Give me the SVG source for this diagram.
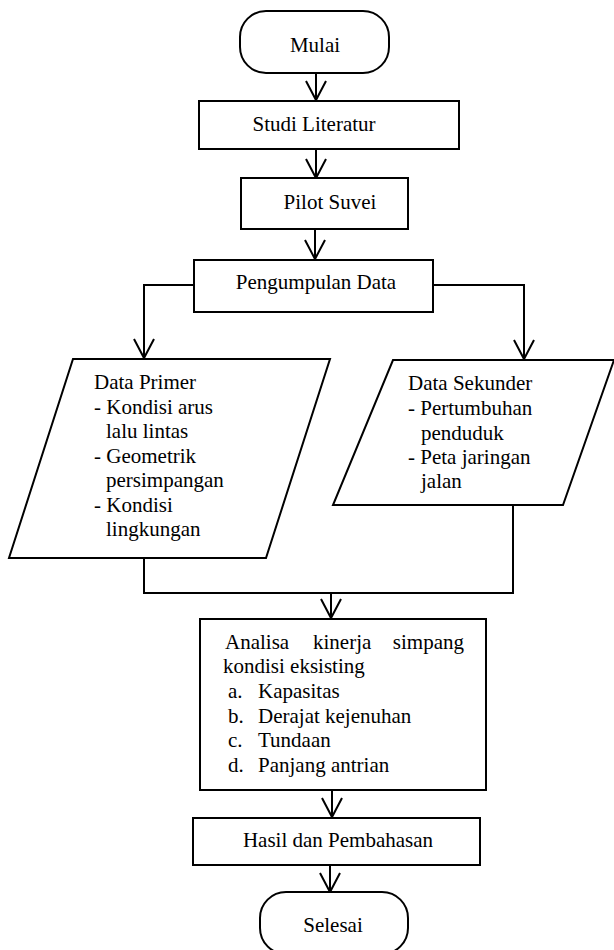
<svg xmlns="http://www.w3.org/2000/svg" width="614" height="950" viewBox="0 0 614 950">
<style>
.s{fill:#fff;stroke:#000;stroke-width:2}
.c{fill:none;stroke:#000;stroke-width:2}
.a{fill:none;stroke:#000;stroke-width:2;marker-end:url(#ah)}
text{font-family:"Liberation Serif","Times New Roman",serif;font-size:21px;fill:#000}
.m{text-anchor:middle}
</style>
<defs>
<marker id="ah" markerUnits="userSpaceOnUse" markerWidth="24" markerHeight="24" viewBox="-21 -12 24 24" refX="0" refY="0" orient="auto" overflow="visible">
<path d="M-19,-10 L0,0 L-19,10" fill="none" stroke="#000" stroke-width="2"/>
</marker>
</defs>
<rect width="614" height="950" fill="#fff"/>
<g id="connectors">
<line class="a" x1="316" y1="73" x2="316" y2="100"/>
<line class="a" x1="316" y1="149" x2="316" y2="178"/>
<line class="a" x1="315" y1="229" x2="315" y2="259"/>
<polyline class="a" points="194,285 144,285 144,358"/>
<polyline class="a" points="433,285 524,285 524,359"/>
<polyline class="c" points="144,558 144,593 513,593 513,505"/>
<line class="a" x1="331" y1="593" x2="331" y2="618"/>
<line class="a" x1="332" y1="790" x2="332" y2="817"/>
<line class="a" x1="330" y1="865" x2="330" y2="892"/>
</g>
<g id="mulai">
<rect class="s" x="240" y="11" width="149" height="62" rx="26" ry="26"/>
<text class="m" x="315" y="52">Mulai</text>
</g>
<g id="studi-literatur">
<rect class="s" x="199" y="101" width="260" height="48"/>
<text class="m" x="314" y="131">Studi Literatur</text>
</g>
<g id="pilot-suvei">
<rect class="s" x="241" y="178" width="167" height="51"/>
<text class="m" x="330" y="209">Pilot Suvei</text>
</g>
<g id="pengumpulan-data">
<rect class="s" x="194" y="260" width="239" height="52"/>
<text class="m" x="316" y="289">Pengumpulan Data</text>
</g>
<g id="data-primer">
<polygon class="s" points="73,359 330,359 266,558 9,558"/>
<text x="94" y="389">Data Primer</text>
<text x="94" y="414">- Kondisi arus</text>
<text x="106" y="438">lalu lintas</text>
<text x="94" y="463">- Geometrik</text>
<text x="106" y="487">persimpangan</text>
<text x="94" y="512">- Kondisi</text>
<text x="106" y="536">lingkungan</text>
</g>
<g id="data-sekunder">
<polygon class="s" points="393,360 614,360 563,505 333,505"/>
<text x="408" y="390">Data Sekunder</text>
<text x="408" y="415">- Pertumbuhan</text>
<text x="421" y="440">penduduk</text>
<text x="408" y="464">- Peta jaringan</text>
<text x="421" y="488">jalan</text>
</g>
<g id="analisa">
<rect class="s" x="200" y="619" width="286" height="171"/>
<text y="649"><tspan x="225">Analisa</tspan><tspan x="313">kinerja</tspan><tspan x="464" text-anchor="end">simpang</tspan></text>
<text x="223" y="673">kondisi eksisting</text>
<text x="228" y="698">a.</text><text x="258" y="698">Kapasitas</text>
<text x="228" y="723">b.</text><text x="258" y="723">Derajat kejenuhan</text>
<text x="228" y="747">c.</text><text x="258" y="747">Tundaan</text>
<text x="228" y="772">d.</text><text x="258" y="772">Panjang antrian</text>
</g>
<g id="hasil">
<rect class="s" x="193" y="818" width="287" height="47"/>
<text class="m" x="338" y="847">Hasil dan Pembahasan</text>
</g>
<g id="selesai">
<rect class="s" x="260" y="892" width="148" height="62" rx="26" ry="26"/>
<text class="m" x="333" y="932">Selesai</text>
</g>
</svg>
